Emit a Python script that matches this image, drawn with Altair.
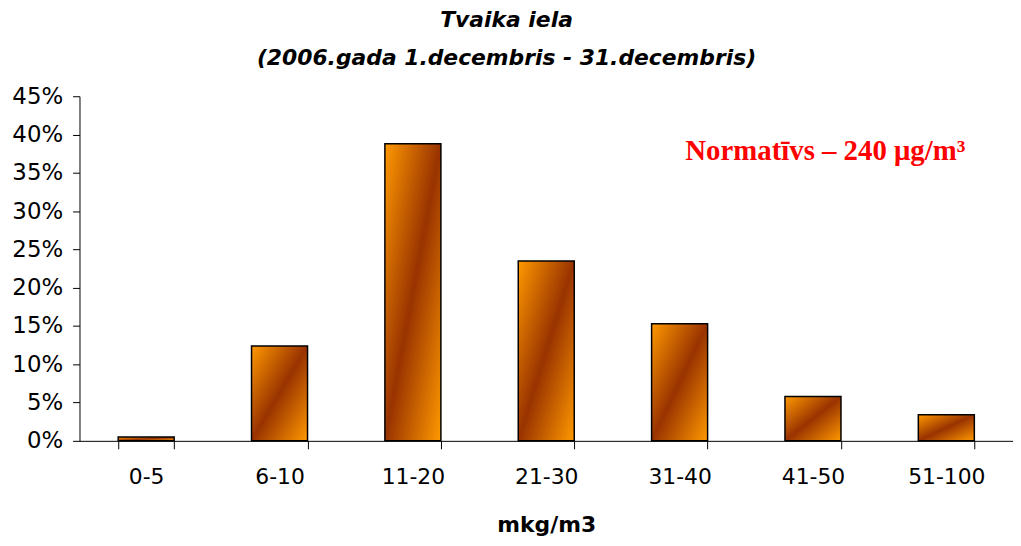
import altair as alt
import pandas as pd

categories = ["0-5", "6-10", "11-20", "21-30", "31-40", "41-50", "51-100"]
shares = [0.005, 0.124, 0.388, 0.235, 0.153, 0.058, 0.034]
title_main = "Tvaika iela"
title_sub = "(2006.gada 1.decembris - 31.decembris)"
x_title = "mkg/m3"
note = "Normatīvs – 240 μg/m³"

df = pd.DataFrame({"cat": categories, "share": shares})

grad = alt.Gradient(
    gradient="linear", x1=0, y1=0, x2=1, y2=1,
    stops=[
        alt.GradientStop(offset=0, color="#FF9900"),
        alt.GradientStop(offset=0.5, color="#993300"),
        alt.GradientStop(offset=1, color="#FF9900"),
    ],
)

bars = alt.Chart(df).mark_bar(color=grad, stroke="black", strokeWidth=1.5).encode(
    x=alt.X("cat:N", sort=categories, title=x_title,
            scale=alt.Scale(paddingInner=0.58, paddingOuter=0.29),
            axis=alt.Axis(labelAngle=0, tickBand="extent", tickSize=8,
                          labelPadding=18, titlePadding=27,
                          labelFont="DejaVu Sans", labelFontSize=22,
                          titleFont="DejaVu Sans", titleFontSize=22, titleFontWeight="bold",
                          domainColor="black", tickColor="black", labelColor="black",
                          titleColor="black")),
    y=alt.Y("share:Q", title=None,
            scale=alt.Scale(domain=[0, 0.45]),
            axis=alt.Axis(format=".0%", values=[i * 0.05 for i in range(10)],
                          tickSize=7, labelPadding=10, grid=False,
                          labelFont="DejaVu Sans", labelFontSize=23,
                          domainColor="black", tickColor="black", labelColor="black")),
)

label = alt.Chart(pd.DataFrame({"t": [note]})).mark_text(
    font="Liberation Serif", fontSize=29, fontWeight="bold", color="#FF0000", align="center",
    baseline="middle",
).encode(text="t:N", x=alt.value(751), y=alt.value(55))

chart = alt.layer(bars, label).properties(
    width=940, height=347,
    title=alt.TitleParams(text=title_main, subtitle=title_sub,
                          font="DejaVu Sans", fontSize=22, fontStyle="italic",
                          fontWeight="bold", color="black",
                          subtitleFont="DejaVu Sans", subtitleFontSize=22,
                          subtitleFontStyle="italic", subtitleFontWeight="bold",
                          subtitleColor="black", subtitlePadding=17,
                          anchor="middle", dx=-40, offset=15),
    autosize=alt.AutoSizeParams(type="none"),
    padding={"left": 72, "top": 87, "right": 0, "bottom": 100},
).configure_view(stroke=None)

chart.save("out.html", embed_options={"renderer": "svg", "actions": False})
